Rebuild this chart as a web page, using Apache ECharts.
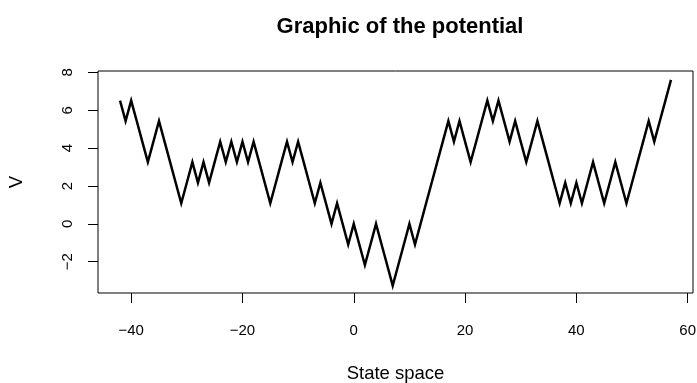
<!DOCTYPE html>
<html>
<head>
<meta charset="utf-8">
<script src="https://cdn.jsdelivr.net/npm/echarts@6/dist/echarts.min.js"></script>
<style>
html,body{margin:0;padding:0;background:#fff;}
#c{width:697px;height:383px;}
</style>
</head>
<body>
<div id="c"></div>
<script>
// State space positions
var states = [];
for (var s = -42; s <= 57; s++) states.push(s);
// Potential V at each state
var potential = [
  6.51, 5.43, 6.51, 5.43, 4.34, 3.26, 4.34, 5.43, 4.34, 3.26,
  2.17, 1.09, 2.17, 3.26, 2.17, 3.26, 2.17, 3.26, 4.34, 3.26,
  4.34, 3.26, 4.34, 3.26, 4.34, 3.26, 2.17, 1.09, 2.17, 3.26,
  4.34, 3.26, 4.34, 3.26, 2.17, 1.09, 2.17, 1.09, 0, 1.09,
  0, -1.09, 0, -1.09, -2.17, -1.09, 0, -1.09, -2.17, -3.26,
  -2.17, -1.09, 0, -1.09, 0, 1.09, 2.17, 3.26, 4.34, 5.43,
  4.34, 5.43, 4.34, 3.26, 4.34, 5.43, 6.51, 5.43, 6.51, 5.43,
  4.34, 5.43, 4.34, 3.26, 4.34, 5.43, 4.34, 3.26, 2.17, 1.09,
  2.17, 1.09, 2.17, 1.09, 2.17, 3.26, 2.17, 1.09, 2.17, 3.26,
  2.17, 1.09, 2.17, 3.26, 4.34, 5.43, 4.34, 5.43, 6.51, 7.6
];
var xTicks = [-40, -20, 0, 20, 40, 60];
var yTicks = [-2, 0, 2, 4, 6, 8];
var titleText = 'Graphic of the potential';
var xName = 'State space';
var yName = 'V';

var data = states.map(function (s, i) { return [s, potential[i]]; });
var FONT = 'Liberation Sans, Arial, Helvetica, sans-serif';

var chart = echarts.init(document.getElementById('c'), null, {renderer: 'canvas'});
chart.setOption({
  animation: false,
  backgroundColor: '#fff',
  title: {
    text: titleText,
    left: 395,
    top: 11,
    textAlign: 'center',
    textStyle: {fontFamily: FONT, fontWeight: 'bold', fontSize: 22, color: '#000'}
  },
  grid: {
    left: 98, right: 4, top: 71, bottom: 90,
    containLabel: false,
    outerBoundsMode: 'none',
    show: true, borderColor: '#000', borderWidth: 1, backgroundColor: 'transparent'
  },
  xAxis: {
    type: 'value',
    min: -45.96, max: 60.96,
    name: xName,
    nameLocation: 'middle',
    nameGap: 71,
    nameTextStyle: {fontFamily: FONT, fontSize: 18.5, color: '#000'},
    axisLine: {show: false, onZero: false},
    axisTick: {show: true, customValues: xTicks, length: 10, lineStyle: {color: '#000', width: 1}},
    axisLabel: {customValues: xTicks, margin: 30, fontFamily: FONT, fontSize: 15, color: '#000',
      formatter: function (v) { return String(v).replace('-', '\u2212'); }},
    splitLine: {show: false}
  },
  yAxis: {
    type: 'value',
    min: -3.65, max: 8.07,
    name: yName,
    nameLocation: 'middle',
    nameRotate: 90,
    nameGap: 72,
    nameTextStyle: {fontFamily: FONT, fontSize: 18.5, color: '#000'},
    axisLine: {show: false, onZero: false},
    axisTick: {show: true, customValues: yTicks, length: 10, lineStyle: {color: '#000', width: 1}},
    axisLabel: {customValues: yTicks, rotate: 90, margin: 23, fontFamily: FONT, fontSize: 15, color: '#000',
      formatter: function (v) { return String(v).replace('-', '\u2212'); }},
    splitLine: {show: false}
  },
  series: [{
    type: 'line',
    data: data,
    showSymbol: false,
    symbol: 'none',
    lineStyle: {color: '#000', width: 2.5, join: 'miter'},
    silent: true
  }]
});
</script>
</body>
</html>
